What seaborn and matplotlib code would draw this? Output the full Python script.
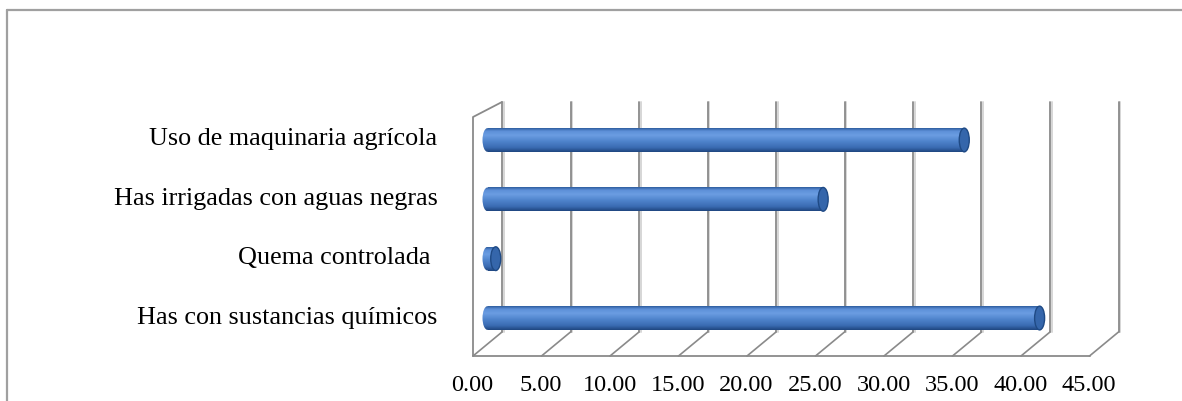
import numpy as np
import matplotlib
matplotlib.use("Agg")
import matplotlib.pyplot as plt
from matplotlib.colors import LinearSegmentedColormap
from matplotlib.patches import Ellipse
from matplotlib.lines import Line2D
from matplotlib.transforms import ScaledTranslation
import seaborn as sns

# Data
categories = [
    "Uso de maquinaria agrícola",
    "Has irrigadas con aguas negras",
    "Quema controlada ",
    "Has con sustancias químicos",
]
values = [34.8, 24.5, 0.6, 40.3]
x_ticks = [0, 5, 10, 15, 20, 25, 30, 35, 40, 45]
x_tick_labels = [f"{t:.2f}" for t in x_ticks]

sns.set_theme(style="white")
plt.rcParams["font.family"] = ["Liberation Serif", "DejaVu Serif"]

W, H, DPI = 1182, 402, 100
fig = plt.figure(figsize=(W / DPI, H / DPI), dpi=DPI)
fig.patch.set_facecolor("white")

# Outer chart frame (top and left edges)
fig.add_artist(Line2D([7 / W, 1.0], [1 - 11 / H, 1 - 11 / H], color="#a0a0a0", lw=1.6))
fig.add_artist(Line2D([7 / W, 7 / W], [1 - 11 / H, 0], color="#a0a0a0", lw=1.6))

# Plot area: value 0 sits at x=487.5 px, 45 at x=1104 px
x_lo, x_hi = -1.5, 45.0
px_per_unit = (1104.0 - 487.5) / 45.0
ax_left = 487.5 + x_lo * px_per_unit
ax_right = 1104.0
ax_top, ax_bottom = 103.0, 357.0
ax = fig.add_axes([ax_left / W, 1 - ax_bottom / H,
                   (ax_right - ax_left) / W, (ax_bottom - ax_top) / H])
ax.patch.set_alpha(0)

bar_color = "#4f84cc"
sns.barplot(x=values, y=categories, orient="h", color=bar_color,
            width=0.40, ax=ax, zorder=3)

ax.set_xlim(x_lo, x_hi)
ax.set_ylim(3.64, -0.64)
for s in ax.spines.values():
    s.set_visible(False)
ax.grid(False)


def shift(dx_px, dy_px=0):
    return ScaledTranslation(dx_px / DPI, dy_px / DPI, fig.dpi_scale_trans)


xt = ax.get_xaxis_transform()
to_fig = fig.transFigure.inverted()


def fig_pt(x, y_axes, dx_px):
    """Figure coords of data x / axes-fraction y, shifted by dx_px pixels."""
    return to_fig.transform((xt + shift(dx_px)).transform((x, y_axes)))


def fig_line(points, **kw):
    xs = [p[0] for p in points]
    ys = [p[1] for p in points]
    fig.add_artist(Line2D(xs, ys, **kw))


# Pseudo-3D box behind the bars: back wall gridlines, floor and left wall
depth = 14.5
back_floor = (ax_bottom - 333) / (ax_bottom - ax_top)
left_top = (ax_bottom - 118) / (ax_bottom - ax_top)
grid_dark = "#8a8a8a"
grid_light = "#d6d6d6"

for t in x_ticks:
    fig_line([fig_pt(t, back_floor, depth + 1.6), fig_pt(t, 1.0, depth + 1.6)],
             color=grid_light, lw=1.4, zorder=-2)
    fig_line([fig_pt(t, back_floor, depth), fig_pt(t, 1.0, depth)],
             color=grid_dark, lw=1.3, zorder=-1)
    fig_line([fig_pt(t, 0, -depth), fig_pt(t, back_floor, depth)],
             color=grid_dark, lw=1.2, zorder=-1)

# front floor edge
fig_line([fig_pt(0, 0, -depth), fig_pt(45, 0, -depth)], color=grid_dark, lw=1.3, zorder=-1)
# left wall
fig_line([fig_pt(0, 0, -depth), fig_pt(0, left_top, -depth), fig_pt(0, 1.0, depth)],
         color=grid_dark, lw=1.3, zorder=-1)

# Cylinder shading for the bars
cyl = LinearSegmentedColormap.from_list(
    "cyl",
    [(0.0, "#2f5e9f"), (0.12, "#5d90d8"), (0.3, "#6b9de2"), (0.55, "#4f84cc"),
     (0.82, "#3a6bb2"), (1.0, "#1f4680")])
grad = np.linspace(0, 1, 64).reshape(-1, 1)
cap_w = 10.0 / px_per_unit

for p in list(ax.patches):
    x0, y0, w, h = p.get_x(), p.get_y(), p.get_width(), p.get_height()
    p.set_facecolor("none")
    p.set_edgecolor("none")
    yc = y0 + h / 2
    # body
    im = ax.imshow(grad, extent=[x0, x0 + w, y0 + h, y0], origin="upper",
                   aspect="auto", cmap=cyl, zorder=3, interpolation="bilinear")
    im.set_clip_path(p)
    # rounded start
    left = Ellipse((x0, yc), cap_w, h, facecolor="none", edgecolor="none")
    ax.add_patch(left)
    im2 = ax.imshow(grad, extent=[x0 - cap_w, x0 + cap_w, y0 + h, y0],
                    origin="upper", aspect="auto", cmap=cyl, zorder=3,
                    interpolation="bilinear")
    im2.set_clip_path(left)
    # end cap
    ax.add_patch(Ellipse((x0 + w, yc), cap_w, h, facecolor="#3566ab",
                         edgecolor="#1f4a85", lw=1.0, zorder=4))

ax.set_xlim(x_lo, x_hi)
ax.set_ylim(3.64, -0.64)

# Axis labels
ax.set_xticks(x_ticks)
ax.set_xticklabels(x_tick_labels, fontsize=17.5, color="black")
ax.tick_params(axis="x", length=0, pad=13)
for lab in ax.get_xticklabels():
    lab.set_transform(lab.get_transform() + shift(-15))

ax.set_yticks(range(len(categories)))
ax.set_yticklabels(categories, fontsize=18.8, color="black")
ax.tick_params(axis="y", length=0, pad=(ax_left - 437.5) * 72 / DPI)
for lab in ax.get_yticklabels():
    lab.set_transform(lab.get_transform() + shift(0, 4))

ax.set_xlabel("")
ax.set_ylabel("")

fig.savefig("out.png", dpi=DPI, facecolor="white")
